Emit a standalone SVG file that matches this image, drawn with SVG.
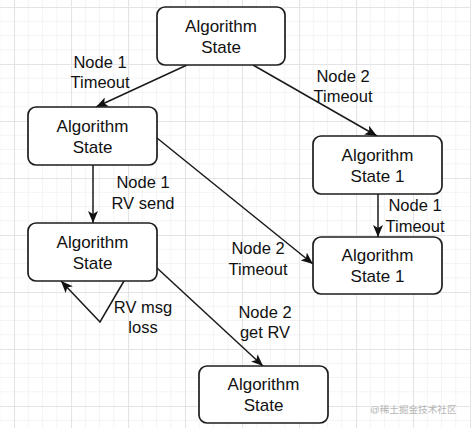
<svg xmlns="http://www.w3.org/2000/svg" width="471" height="428" viewBox="0 0 471 428">
  <style>
    .node rect { fill: #ffffff; stroke: #1e1e1e; stroke-width: 1.7; }
    .node text { font-family: "Liberation Sans", Arial, sans-serif; font-size: 17px; fill: #111; text-anchor: middle; }
    .lbl { font-family: "Liberation Sans", Arial, sans-serif; font-size: 16.5px; fill: #111; text-anchor: middle; }
    .edge { fill: none; stroke: #1a1a1a; stroke-width: 1.5; marker-end: url(#arr); }
    .wm { font-family: "Liberation Sans", "Noto Sans CJK SC", sans-serif; font-size: 9.6px; fill: #b4b4b4; }
  </style>
  <defs>
    <pattern id="grid" x="14" y="7" width="57" height="57" patternUnits="userSpaceOnUse">
      <path d="M14.25,0 V57 M28.5,0 V57 M42.75,0 V57 M0,14.25 H57 M0,28.5 H57 M0,42.75 H57" stroke="#f4f4f4" stroke-width="1" fill="none"/>
      <path d="M0.5,0 V57 M0,0.5 H57" stroke="#e4e4e4" stroke-width="1.2" fill="none"/>
    </pattern>
    <marker id="arr" viewBox="0 0 12 10" refX="12" refY="5" markerWidth="12" markerHeight="10" markerUnits="userSpaceOnUse" orient="auto">
      <path d="M0,0 L12,5 L0,10 L3,5 Z" fill="#111"/>
    </marker>
  </defs>
  <rect width="471" height="428" fill="#ffffff"/>
  <rect width="471" height="428" fill="url(#grid)"/>

  <g id="connectors">
    <line class="edge" x1="187" y1="65" x2="96" y2="107"/>
    <line class="edge" x1="253" y1="65" x2="377" y2="136"/>
    <line class="edge" x1="93" y1="165" x2="93" y2="223"/>
    <line class="edge" x1="157" y1="138" x2="313" y2="264"/>
    <line class="edge" x1="378" y1="194" x2="378" y2="237"/>
    <line class="edge" x1="157" y1="268" x2="263" y2="366"/>
    <polyline class="edge" points="124,281 100,322 61,281"/>
  </g>

  <g id="edge-labels">
    <text class="lbl" x="100" y="68">Node 1</text>
    <text class="lbl" x="100" y="88">Timeout</text>
    <text class="lbl" x="343" y="82">Node 2</text>
    <text class="lbl" x="343" y="102">Timeout</text>
    <text class="lbl" x="143" y="188">Node 1</text>
    <text class="lbl" x="143" y="209">RV send</text>
    <text class="lbl" x="415" y="211">Node 1</text>
    <text class="lbl" x="415" y="232">Timeout</text>
    <text class="lbl" x="258" y="254">Node 2</text>
    <text class="lbl" x="258" y="275">Timeout</text>
    <text class="lbl" x="143" y="313">RV msg</text>
    <text class="lbl" x="143" y="333">loss</text>
    <text class="lbl" x="265" y="318">Node 2</text>
    <text class="lbl" x="265" y="338">get RV</text>
  </g>

  <g id="node-top" class="node">
    <rect x="157" y="7" width="128" height="58" rx="8"/>
    <text x="221" y="32">Algorithm</text>
    <text x="221" y="53">State</text>
  </g>
  <g id="node-a" class="node">
    <rect x="28" y="107" width="129" height="58" rx="8"/>
    <text x="92.5" y="132">Algorithm</text>
    <text x="92.5" y="153">State</text>
  </g>
  <g id="node-b" class="node">
    <rect x="28" y="223" width="129" height="58" rx="8"/>
    <text x="92.5" y="248">Algorithm</text>
    <text x="92.5" y="269">State</text>
  </g>
  <g id="node-c" class="node">
    <rect x="313" y="136" width="129" height="58" rx="8"/>
    <text x="377.5" y="161">Algorithm</text>
    <text x="377.5" y="182">State 1</text>
  </g>
  <g id="node-d" class="node">
    <rect x="313" y="237" width="129" height="57" rx="8"/>
    <text x="377.5" y="261">Algorithm</text>
    <text x="377.5" y="282">State 1</text>
  </g>
  <g id="node-e" class="node">
    <rect x="199" y="366" width="129" height="57" rx="8"/>
    <text x="263.5" y="390">Algorithm</text>
    <text x="263.5" y="411">State</text>
  </g>

  <text class="wm" x="370" y="413">@稀土掘金技术社区</text>
</svg>
